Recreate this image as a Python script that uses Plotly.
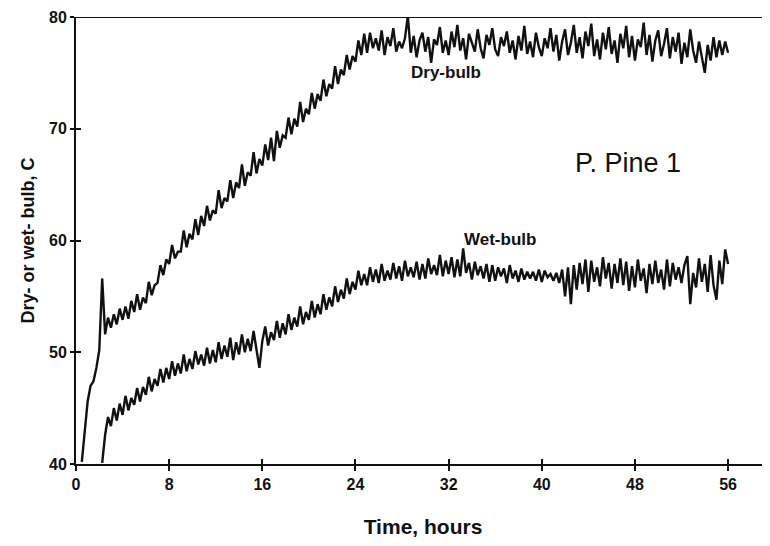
import plotly.graph_objects as go

time_step = 0.25
dry_start = 0.5
wet_start = 2.25

dry_bulb = [
    40.2, 43.0, 45.6, 47.0, 47.4, 48.6, 50.2, 56.6, 51.6, 53.1,
    52.2, 53.4, 52.5, 53.9,
    52.9, 54.1, 53.0, 54.6,
    53.6, 55.2, 53.8, 54.9,
    54.4, 56.3, 55.1, 56.0,
    56.2, 57.8, 56.9, 58.3,
    57.9, 59.6, 58.4, 59.0,
    59.0, 60.9, 59.4, 60.6,
    60.1, 61.9, 60.5, 62.2,
    61.3, 63.1, 61.8, 62.7,
    62.4, 64.5, 62.9, 63.8,
    63.5, 65.4, 63.8, 65.2,
    64.7, 66.8, 64.9, 66.1,
    65.8, 67.9, 66.0, 67.3,
    66.7, 68.6, 67.2, 69.2,
    67.1, 69.8, 68.3, 69.4,
    69.2, 71.0, 69.5, 70.9,
    70.2, 72.4, 70.6, 71.8,
    71.3, 73.2, 71.8, 73.1,
    72.5, 74.4, 72.9, 74.0,
    73.6, 75.6, 74.0, 75.3,
    74.8, 76.6, 75.3, 76.5,
    76.0, 77.9, 76.6, 78.5,
    76.8, 78.6, 77.2, 78.1,
    77.0, 78.8, 76.6, 78.2,
    77.4, 79.0, 76.9, 77.8,
    77.2, 78.1, 80.1, 76.8,
    78.3, 76.4, 77.9, 78.6,
    76.9, 78.2, 75.9, 78.0,
    77.5, 79.1, 76.8, 77.9,
    76.6, 78.7, 77.3, 79.3,
    77.0, 78.1, 76.2, 78.5,
    77.6, 76.9, 78.9, 77.2,
    76.3, 78.4, 77.5, 79.0,
    77.1, 76.5, 78.2, 77.4,
    78.7, 76.8, 77.9, 76.2,
    78.3, 77.0, 79.2, 76.7,
    77.8, 76.4, 78.6, 77.3,
    76.5, 78.1, 77.2, 79.0,
    76.9, 78.4, 76.1, 77.8,
    78.9, 76.6, 77.7, 79.3,
    76.8, 78.2, 76.3, 78.7,
    77.4, 79.4, 76.5, 78.0,
    76.2, 78.6, 77.1, 79.1,
    76.7, 77.9, 75.9, 78.5,
    77.2, 79.2, 76.4, 78.3,
    76.1, 78.0, 77.3, 79.5,
    76.6, 78.4, 76.0, 77.9,
    78.8, 76.5, 77.6, 79.0,
    76.3, 78.2, 76.9, 78.6,
    75.8, 77.7, 76.4, 78.9,
    77.0, 75.9, 77.8, 76.3,
    75.0, 77.5, 76.1, 78.2,
    76.4, 77.9, 76.6, 77.8,
    76.8,
]

wet_bulb = [
    40.1, 42.6, 44.2,
    43.4, 45.0, 43.9, 45.4,
    44.4, 46.1, 44.8, 45.9,
    45.3, 46.8, 45.6, 46.9,
    46.2, 47.8, 46.5, 47.6,
    47.0, 48.5, 47.3, 48.6,
    47.6, 49.2, 47.9, 49.0,
    48.1, 49.8, 48.3, 49.4,
    48.5, 50.1, 48.9, 49.8,
    48.8, 50.4, 49.0, 50.2,
    49.1, 50.9, 49.4, 50.6,
    49.6, 51.3, 49.3, 50.9,
    49.8, 51.6, 50.0, 51.2,
    50.1, 51.9, 50.4, 48.6,
    51.0, 52.3, 50.6, 51.8,
    51.1, 52.8, 51.3, 52.6,
    51.6, 53.4, 52.0, 53.1,
    52.3, 54.1, 52.5, 53.6,
    52.9, 54.6, 53.1, 54.3,
    53.4, 55.2, 53.8, 54.9,
    54.1, 55.9, 54.5, 55.6,
    54.8, 56.6, 55.2, 56.3,
    55.6, 57.3, 56.0, 57.0,
    56.0, 57.6, 56.3, 57.4,
    56.2, 57.9, 56.4, 57.3,
    56.5, 58.0, 56.6, 57.7,
    56.4, 58.2, 56.8, 57.6,
    56.7, 58.1, 56.5, 57.9,
    56.6, 58.4, 57.0, 57.8,
    56.9, 58.7, 56.8, 58.2,
    57.0, 58.5, 56.7, 58.3,
    56.8, 59.3, 57.1, 58.0,
    56.5, 58.1, 56.9, 57.7,
    56.6, 57.9, 56.3, 57.8,
    56.4, 57.6, 56.8, 57.5,
    56.2, 57.8, 56.6, 57.3,
    56.3, 57.5, 56.5, 57.2,
    56.6, 57.2, 56.4, 57.4,
    56.3, 57.3, 56.7, 57.0,
    56.4, 57.1, 56.2, 57.4,
    55.0, 57.6, 54.3, 57.8,
    55.6, 58.0, 56.1, 58.3,
    55.4, 58.2, 56.3, 57.6,
    55.9, 58.5, 56.6, 58.0,
    55.7, 57.9, 56.2, 58.4,
    56.0, 58.1, 55.5, 57.7,
    55.8, 58.3, 56.4, 57.5,
    55.3, 57.9, 56.1, 58.2,
    56.2, 57.4, 55.6, 58.3,
    55.9, 58.0, 56.5, 57.6,
    56.2, 57.8, 58.6, 54.3,
    57.1, 55.8, 58.4, 56.3,
    57.9, 55.4, 58.7, 56.0,
    54.7, 58.2, 56.1, 59.2,
    57.9,
]

x_ticks = [0, 8, 16, 24, 32, 40, 48, 56]
y_ticks = [40, 50, 60, 70, 80]

dry_time = [dry_start + time_step * i for i in range(len(dry_bulb))]
wet_time = [wet_start + time_step * i for i in range(len(wet_bulb))]

FONT = "Arial, 'Liberation Sans', sans-serif"
INK = "#111111"

fig = go.Figure()
fig.add_trace(go.Scatter(x=dry_time, y=dry_bulb, mode="lines", name="Dry-bulb",
                         line=dict(color=INK, width=2.4)))
fig.add_trace(go.Scatter(x=wet_time, y=wet_bulb, mode="lines", name="Wet-bulb",
                         line=dict(color=INK, width=2.4)))
# empty trace to carry the inner tick marks (ticks cross the axis lines)
fig.add_trace(go.Scatter(x=[], y=[], xaxis="x2", yaxis="y2", showlegend=False))

axis_common = dict(showgrid=False, zeroline=False, showline=True, automargin=False,
                   linecolor=INK, linewidth=2, tickcolor=INK, tickwidth=1.5)

# the page body adds an 8px offset, so the figure is 8px smaller and margins shifted
fig.update_layout(
    width=762, height=538,
    margin=dict(l=68, r=0, t=9, b=82, autoexpand=False),
    paper_bgcolor="white", plot_bgcolor="white",
    showlegend=False,
    xaxis=dict(range=[0, 59.6], tickvals=x_ticks, ticks="outside", ticklen=5,
               tickfont=dict(family=FONT, size=16, color=INK, weight="bold"),
               title=dict(text="Time, hours", standoff=27,
                          font=dict(family=FONT, size=21, color=INK, weight="bold")),
               **axis_common),
    yaxis=dict(range=[40, 80], tickvals=y_ticks, ticks="outside", ticklen=4,
               tickfont=dict(family=FONT, size=16, color=INK, weight="bold"),
               title=dict(text="Dry- or wet- bulb, C", standoff=10,
                          font=dict(family=FONT, size=18, color=INK, weight="bold")),
               **axis_common),
    xaxis2=dict(overlaying="x", matches="x", range=[0, 59.6], tickvals=x_ticks,
                ticks="inside", ticklen=5, showticklabels=False, anchor="y2",
                **axis_common),
    yaxis2=dict(overlaying="y", matches="y", range=[40, 80], tickvals=y_ticks,
                ticks="inside", ticklen=5, showticklabels=False, anchor="x2",
                **axis_common),
)

# top frame line at 80
fig.add_shape(type="line", xref="paper", yref="y", x0=0, x1=1, y0=80, y1=80,
              line=dict(color=INK, width=2))

fig.add_annotation(x=31.8, y=75.0, text="Dry-bulb", showarrow=False,
                   font=dict(family=FONT, size=17, color=INK, weight="bold"))
fig.add_annotation(x=36.4, y=60.1, text="Wet-bulb", showarrow=False,
                   font=dict(family=FONT, size=17, color=INK, weight="bold"))
fig.add_annotation(x=47.4, y=66.9, text="P. Pine 1", showarrow=False,
                   font=dict(family=FONT, size=27, color=INK))

fig.write_html("out.html")
